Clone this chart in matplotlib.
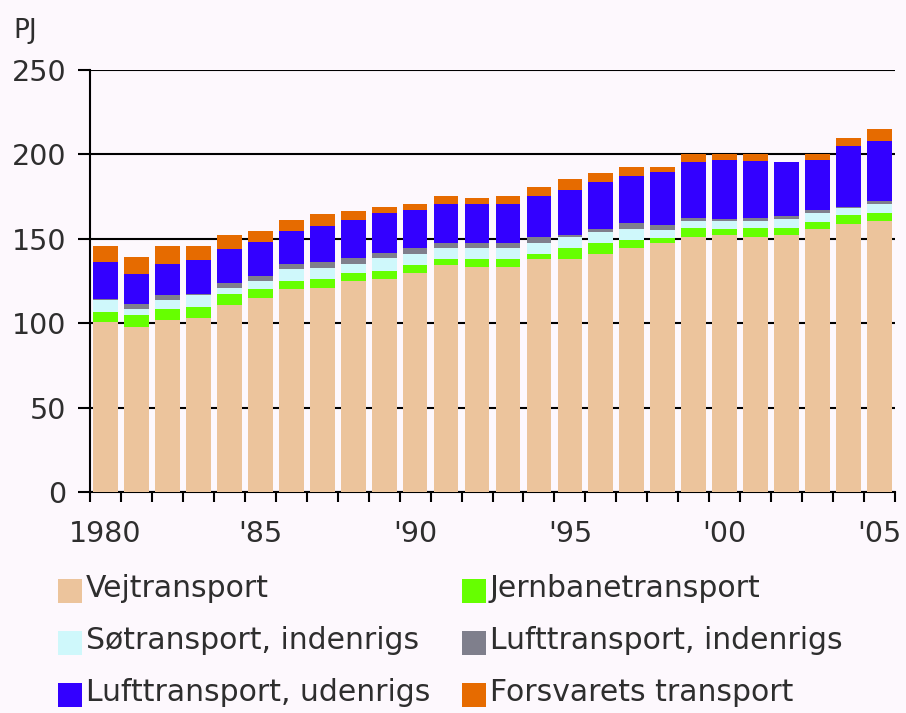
import numpy as np
import matplotlib
matplotlib.use("Agg")
import matplotlib.pyplot as plt
from matplotlib.patches import Rectangle

years = list(range(1980, 2006))
vejtransport = [101, 98, 102, 103, 111, 115, 120, 121, 125, 126, 129.5, 134.5, 133, 133,
                138, 138, 141, 144.5, 147.5, 151, 152, 151, 152.3, 156, 159, 160.7]
jernbane = [5.5, 7, 6.5, 6.5, 6.5, 5, 5, 5, 5, 5, 5, 3.5, 5, 5,
            3, 6.5, 6.7, 5, 3, 5.3, 4, 5.3, 4, 3.7, 5, 4.8]
soe_ind = [7, 3.5, 5, 7, 3.5, 5, 7, 6.5, 5, 7.5, 6.5, 6.5, 6.5, 6.5,
           6.7, 6.5, 6.5, 6.5, 4.5, 4.5, 4.5, 4.5, 5.5, 5.6, 4, 5.1]
luft_ind = [1, 3, 3.5, 1, 3, 3, 3, 3.5, 3.5, 3, 3.3, 3, 3, 3,
            3.2, 1.5, 1.5, 3.3, 3.3, 1.5, 1.5, 1.5, 2, 2, 1, 1.8]
luft_ud = [21.5, 17.5, 18, 20, 20, 20, 19.5, 21.5, 22.5, 24, 23, 23, 23, 23,
           24.7, 26.5, 28, 28, 31, 33, 34.5, 34, 31.5, 29.5, 36, 35.7]
forsvar = [10, 10, 11, 8, 8, 6.5, 6.5, 7, 5.5, 3.5, 3.5, 5, 3.5, 5,
           5, 6.5, 5, 5, 3.5, 5, 3.5, 4, 0, 3.5, 5, 6.7]

labels = ["Vejtransport", "Jernbanetransport", "Søtransport, indenrigs",
          "Lufttransport, indenrigs", "Lufttransport, udenrigs", "Forsvarets transport"]
colors = ["#ecc49c", "#66ff00", "#cff8fb", "#7f7f8c", "#3300ff", "#e66b00"]
series = [vejtransport, jernbane, soe_ind, luft_ind, luft_ud, forsvar]

tick_pos = [1980, 1985, 1990, 1995, 2000, 2005]
tick_labels = ["1980", "'85", "'90", "'95", "'00", "'05"]

bg = "#fdf8fd"
txt = "#2e2e2e"
fs = 20.5
plt.rcParams['font.family'] = ['DejaVu Sans']

W, H = 906, 713
fig = plt.figure(figsize=(W / 100, H / 100), dpi=100, facecolor=bg)
ax = fig.add_axes([90 / W, 1 - 492 / H, 805 / W, 422 / H], facecolor=bg)

bottom = np.zeros(len(years))
for vals, c in zip(series, colors):
    ax.bar(years, vals, width=0.8, bottom=bottom, color=c, linewidth=0, zorder=3)
    bottom += np.array(vals)

ax.set_xlim(1979.5, 2005.5)
ax.set_ylim(0, 250)
ax.set_yticks([0, 50, 100, 150, 200, 250])
ax.yaxis.grid(True, color="black", linewidth=1.5, zorder=0)
ax.set_axisbelow(True)

ax.set_xticks(tick_pos)
ax.set_xticklabels(tick_labels)
ax.set_xticks(np.arange(1979.5, 2006, 1), minor=True)
ax.tick_params(axis="x", which="major", length=0, pad=20, labelsize=fs, labelcolor=txt)
ax.tick_params(axis="x", which="minor", length=7, width=1.5, direction="out", color="black")
ax.tick_params(axis="y", length=9, width=1.5, color="black", labelsize=fs, labelcolor=txt, pad=8)

for s in ["top", "right"]:
    ax.spines[s].set_visible(False)
ax.spines["left"].set_linewidth(1.5)
ax.spines["bottom"].set_linewidth(1.5)

fig.text(13 / W, 1 - 38 / H, "PJ", fontsize=19, color=txt, ha="left", va="baseline")

# legend, two columns by three rows
col_x = [58, 462]
row_bottom = [603, 655, 707]
for i, (lab, c) in enumerate(zip(labels, colors)):
    r, k = divmod(i, 2)
    x0, yb = col_x[k], row_bottom[r]
    fig.add_artist(Rectangle((x0 / W, 1 - yb / H), 24 / W, 24 / H,
                             transform=fig.transFigure, facecolor=c, edgecolor="none"))
    fig.text((x0 + 28) / W, 1 - (yb - 6) / H, lab, fontsize=21.5, color=txt,
             ha="left", va="baseline")

fig.savefig("out.png", dpi=100, facecolor=bg)
